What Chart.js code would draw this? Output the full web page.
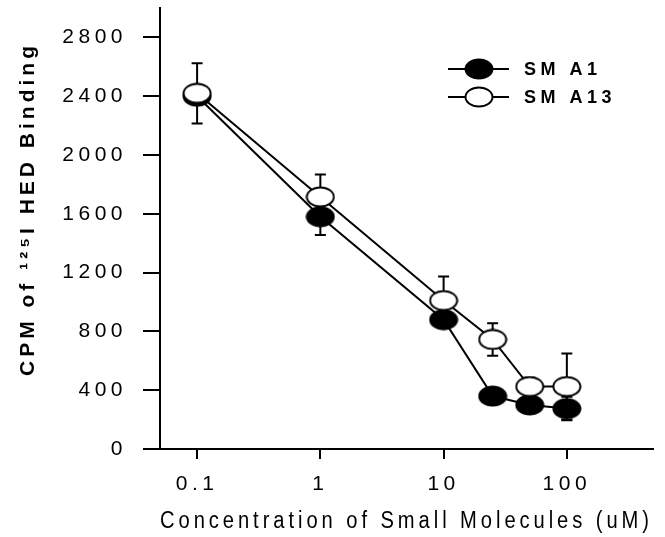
<!DOCTYPE html>
<html>
<head>
<meta charset="utf-8">
<script src="https://cdn.jsdelivr.net/npm/chart.js@4"></script>
<style>
  html, body { margin: 0; padding: 0; background: #fff; }
  canvas { display: block; }
</style>
</head>
<body>
<canvas id="chart" width="665" height="537"></canvas>
<script>
// concentrations in uM (log axis)
const concentrations = [0.1, 1, 10, 25, 50, 100]
const smA1 = [2400, 1580, 880, 360, 300, 275]
const smA13 = [2420, 1715, 1010, 745, 425, 425]
// error bar half-lengths (0 = none drawn)
const smA1Err = [0, 125, 40, 0, 0, 80]
const smA13Err = [205, 152, 163, 110, 60, 225]
const xTicks = [0.1, 1, 10, 100]
const yTicks = [0, 400, 800, 1200, 1600, 2000, 2400, 2800]
const yTitle = 'CPM of ¹²⁵I HED Binding'

const FONT = 'Liberation Sans, Arial, sans-serif'
const SPACING = '4.5px'

function ellipseMarker(fill) {
    const c = document.createElement('canvas')
    c.width = 30
    c.height = 22
    const g = c.getContext('2d')
    g.beginPath()
    g.ellipse(15, 11, 13.5, 9.5, 0, 0, Math.PI * 2)
    g.fillStyle = fill
    g.fill()
    g.lineWidth = 2
    g.strokeStyle = '#000'
    g.stroke()
    return c
}
const filledMarker = ellipseMarker('#000')
const openMarker = ellipseMarker('#fff')

// wide letter spacing like the original typesetting
const letterSpacing = {
    id: 'letterSpacing',
    beforeUpdate(chart) { chart.ctx.letterSpacing = SPACING },
    beforeDraw(chart) { chart.ctx.letterSpacing = SPACING }
}

const errorBars = {
    id: 'errorBars',
    beforeDatasetsDraw(chart) {
        const ctx = chart.ctx
        const y = chart.scales.y
        ctx.save()
        ctx.strokeStyle = '#000'
        ctx.lineWidth = 2
        chart.data.datasets.forEach((ds, di) => {
            const meta = chart.getDatasetMeta(di)
            ds.errors.forEach((e, i) => {
                if (!e) return
                const px = meta.data[i].x
                const top = y.getPixelForValue(ds.data[i] + e)
                const bot = y.getPixelForValue(ds.data[i] - e)
                ctx.beginPath()
                ctx.moveTo(px, top); ctx.lineTo(px, bot)
                ctx.moveTo(px - 5.5, top); ctx.lineTo(px + 5.5, top)
                ctx.moveTo(px - 5.5, bot); ctx.lineTo(px + 5.5, bot)
                ctx.stroke()
            })
        })
        ctx.restore()
    }
}

// legend (line through marker) and the rotated y title
const annotations = {
    id: 'annotations',
    afterDraw(chart) {
        const ctx = chart.ctx
        ctx.save()
        ctx.fillStyle = '#000'
        ctx.textBaseline = 'middle'

        ctx.letterSpacing = '4.5px'
        ctx.font = 'bold 18px ' + FONT
        const rows = [chart.data.datasets[0], chart.data.datasets[1]]
        rows.forEach((ds, i) => {
            const yy = 69 + i * 28
            ctx.strokeStyle = '#000'
            ctx.lineWidth = 2
            ctx.beginPath()
            ctx.moveTo(448, yy); ctx.lineTo(509, yy)
            ctx.stroke()
            ctx.drawImage(ds.pointStyle, 479 - 15, yy - 11)
            ctx.fillText(ds.label, 524, yy + 1)
        })

        ctx.letterSpacing = '4px'
        ctx.font = 'bold 21px ' + FONT
        ctx.textAlign = 'center'
        ctx.translate(28, 211)
        ctx.rotate(-Math.PI / 2)
        ctx.fillText(yTitle, 2, 0)
        ctx.restore()
    }
}

const data = {
    labels: concentrations,
    datasets: [{
        label: 'SM A1',
        data: smA1,
        errors: smA1Err,
        borderColor: '#000',
        borderWidth: 2,
        pointStyle: filledMarker,
        order: 1
    }, {
        label: 'SM A13',
        data: smA13,
        errors: smA13Err,
        borderColor: '#000',
        borderWidth: 2,
        pointStyle: openMarker,
        order: 0
    }]
}

const options = {
    responsive: false,
    animation: false,
    layout: { padding: { top: 8, right: 12, left: 0, bottom: 0 } },
    plugins: {
        legend: { display: false },
        tooltip: { enabled: false }
    },
    scales: {
        x: {
            type: 'logarithmic',
            min: 0.05,
            max: 500,
            afterBuildTicks: s => { s.ticks = xTicks.map(v => ({ value: v })) },
            afterFit: s => { s.height = 88; s.paddingLeft = 0; s.paddingRight = 0 },
            ticks: {
                color: '#000',
                font: { family: FONT, size: 21 },
                padding: 13,
                maxRotation: 0,
                callback: v => String(v)
            },
            grid: { drawOnChartArea: false, drawTicks: true, tickLength: 10, color: '#000', lineWidth: 2 },
            border: { display: true, color: '#000', width: 2 },
            title: {
                display: true,
                text: 'Concentration of Small Molecules (uM)',
                color: '#000',
                font: { family: FONT, size: 23 },
                padding: { top: 0, bottom: 2 }
            }
        },
        y: {
            min: 0,
            max: 3000,
            afterBuildTicks: s => { s.ticks = yTicks.map(v => ({ value: v })) },
            afterFit: s => { s.width = 160; s.paddingTop = 0; s.paddingBottom = 0 },
            ticks: {
                color: '#000',
                font: { family: FONT, size: 21 },
                padding: 16,
                callback: v => String(v)
            },
            grid: { drawOnChartArea: false, drawTicks: true, tickLength: 17, color: '#000', lineWidth: 2 },
            border: { display: true, color: '#000', width: 2 }
        }
    }
}

new Chart('chart', { type: 'line', data, options, plugins: [letterSpacing, errorBars, annotations] })
</script>
</body>
</html>
